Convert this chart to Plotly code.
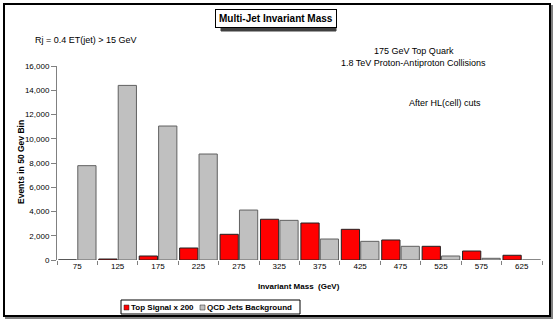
import plotly.graph_objects as go

W, H = 554, 321
# plot area in pixels (left, right, top, bottom)
PL, PR, PT, PB = 57, 542, 66, 260

mass_bins = ["75", "125", "175", "225", "275", "325", "375", "425", "475", "525", "575", "625"]
top_signal = [0, 80, 330, 990, 2120, 3360, 3050, 2530, 1650, 1130, 740, 390]
qcd_background = [7780, 14400, 11050, 8740, 4120, 3270, 1730, 1540, 1130, 330, 140, 0]

RED, GREY = "#FF0000", "#C0C0C0"


def px(x):
    return (x - PL) / (PR - PL)


def py(y):
    return (PB - y) / (PB - PT)


FONT = "Liberation Sans, Arial, sans-serif"

fig = go.Figure()
fig.add_trace(go.Bar(
    x=mass_bins, y=top_signal, name="Top Signal x 200",
    marker=dict(color=RED, line=dict(color="#202020", width=1)),
))
fig.add_trace(go.Bar(
    x=mass_bins, y=qcd_background, name="QCD Jets Background",
    marker=dict(color=GREY, line=dict(color="#606060", width=1)),
))

notes = [
    dict(text="Rj = 0.4 ET(jet) > 15 GeV", x=px(33), y=py(40), xanchor="left"),
    dict(text="175 GeV Top Quark", x=px(414), y=py(51), xanchor="center"),
    dict(text="1.8 TeV Proton-Antiproton Collisions", x=px(413), y=py(63), xanchor="center"),
    dict(text="After HL(cell) cuts", x=px(445), y=py(103), xanchor="center"),
]
annotations = []
for n in notes:
    annotations.append(dict(
        xref="paper", yref="paper", showarrow=False, yanchor="middle",
        font=dict(family=FONT, size=9, color="black"), **n))

annotations.append(dict(
    text="<b>Invariant Mass  (GeV)</b>", xref="paper", yref="paper",
    x=px(299), y=py(286), showarrow=False, xanchor="center", yanchor="middle",
    font=dict(family=FONT, size=8, color="black")))

annotations.append(dict(
    text="<b>Events in 50 Gev Bin</b>", xref="paper", yref="paper",
    x=px(21), y=py(162), textangle=-90, showarrow=False,
    xanchor="center", yanchor="middle",
    font=dict(family=FONT, size=8.5, color="black")))

annotations.append(dict(
    text="<b>Multi-Jet Invariant Mass</b>", xref="paper", yref="paper",
    x=px(276), y=py(18), showarrow=False, xanchor="center", yanchor="middle",
    font=dict(family=FONT, size=10, color="black"),
    bordercolor="black", borderwidth=1, borderpad=3, bgcolor="white"))

# hand-made legend (plotly's own legend pushes the margins)
legend_items = [("Top Signal x 200", RED, 124, 129), ("QCD Jets Background", GREY, 200, 205)]
for label, colour, sx, tx in legend_items:
    annotations.append(dict(
        text="<b>" + label + "</b>", xref="paper", yref="paper",
        x=px(tx), y=py(307), showarrow=False, xanchor="left", yanchor="middle",
        font=dict(family=FONT, size=8, color="black")))

shapes = [
    # outer chart frame with shadow
    dict(type="rect", xref="paper", yref="paper",
         x0=px(6), x1=px(552), y0=py(318), y1=py(6),
         line=dict(color="#808080", width=2), layer="below"),
    dict(type="rect", xref="paper", yref="paper",
         x0=px(4), x1=px(550), y0=py(316), y1=py(4),
         line=dict(color="black", width=2), fillcolor="white", layer="below"),
    # title box shadow
    dict(type="rect", xref="paper", yref="paper",
         x0=px(221), x1=px(336), y0=py(31), y1=py(11),
         line=dict(color="#404040", width=1), fillcolor="#404040", layer="below"),
    # legend box
    dict(type="rect", xref="paper", yref="paper",
         x0=px(121), x1=px(300), y0=py(314), y1=py(300),
         line=dict(color="black", width=1), fillcolor="white"),
]
for label, colour, sx, tx in legend_items:
    shapes.append(dict(
        type="rect", xref="paper", yref="paper",
        x0=px(sx), x1=px(sx + 5), y0=py(310), y1=py(305),
        line=dict(color="#202020", width=0.5), fillcolor=colour))

fig.update_layout(
    width=W, height=H,
    margin=dict(l=PL, r=W - PR, t=PT, b=H - PB, pad=0, autoexpand=False),
    paper_bgcolor="white", plot_bgcolor="white",
    font=dict(family=FONT, size=8, color="black"),
    barmode="group", bargap=0.04, bargroupgap=0.06,
    showlegend=False,
    xaxis=dict(
        type="category", tickson="boundaries", ticks="outside", ticklen=4,
        tickcolor="#808080", showline=False, showgrid=False, zeroline=False,
        tickfont=dict(family=FONT, size=8, color="black"),
    ),
    yaxis=dict(
        range=[0, 16000], dtick=2000, tickformat=",d", ticks="outside",
        ticklen=5, tickcolor="#808080", showline=True, linecolor="#808080",
        linewidth=1, showgrid=False, zeroline=False,
        tickfont=dict(family=FONT, size=8, color="black"),
    ),
    annotations=annotations,
    shapes=shapes,
)

# the page body has a default 8px margin; drop it so the chart sits at 0,0
fig.write_html("out.html", config={"displayModeBar": False},
               post_script="document.body.style.margin='0';")
